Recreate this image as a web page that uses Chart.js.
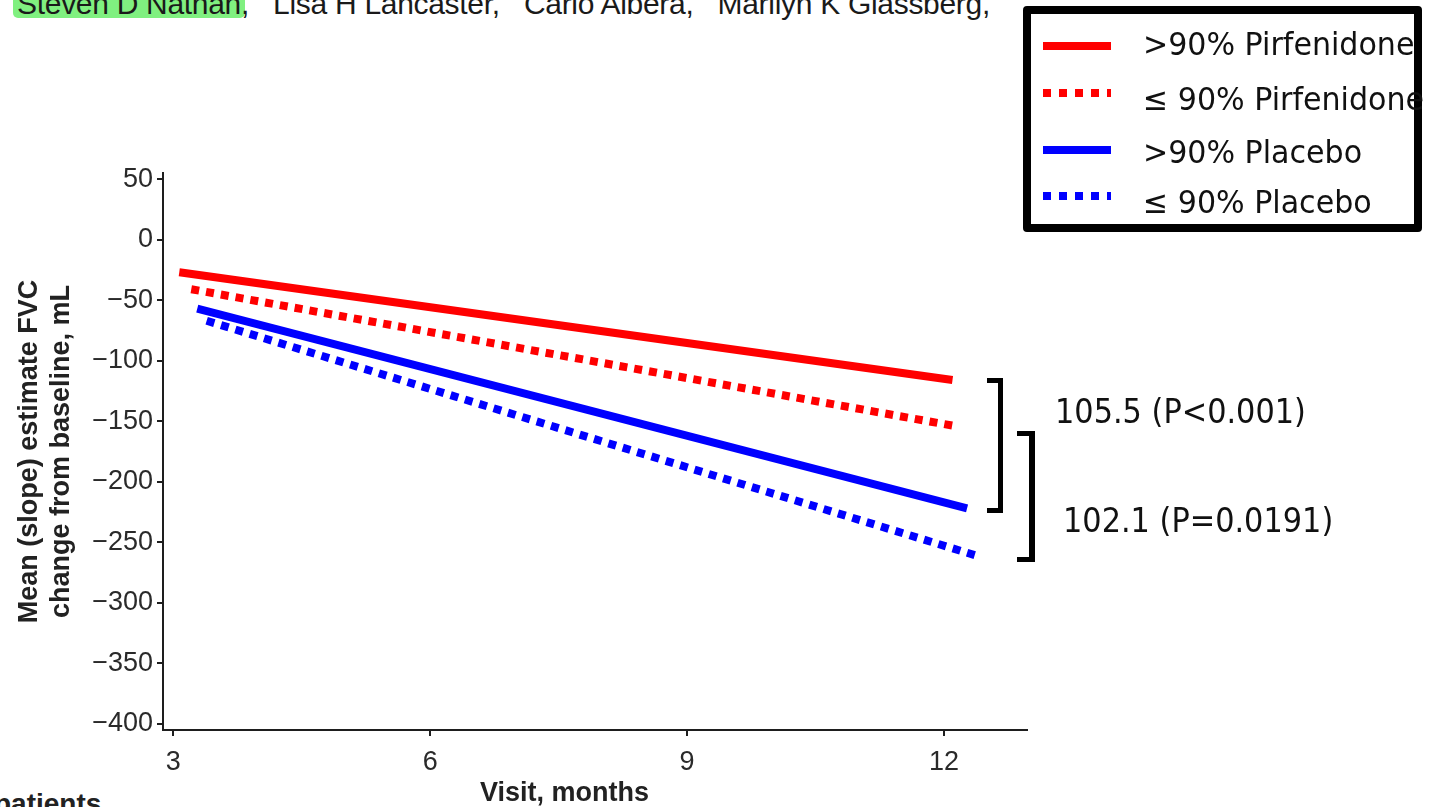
<!DOCTYPE html>
<html>
<head>
<meta charset="utf-8">
<script src="https://cdn.jsdelivr.net/npm/chart.js@4.4.1/dist/chart.umd.min.js"></script>
<style>
  html, body { margin: 0; padding: 0; background: #fff; overflow: hidden; }
  #wrap { position: relative; width: 1437px; height: 807px; overflow: hidden; }
  #chart { position: absolute; left: 0; top: 0; }
  .txt { position: absolute; white-space: pre; line-height: 1; color: #111; }
  .sans { font-family: "Liberation Sans", Arial, sans-serif; }
  .tah { font-family: "DejaVu Sans", Verdana, sans-serif; transform-origin: left top; }
  #hilite { position: absolute; left: 13px; top: -6px; width: 232px; height: 24px; background: #80f080; border-radius: 5px; }
  #legend { position: absolute; left: 1023px; top: 6px; width: 399px; height: 226px; box-sizing: border-box; border: 8px solid #000; border-radius: 4px; }
  .sample { position: absolute; left: 1043px; width: 68px; height: 8px; }
  .bracket { position: absolute; box-sizing: border-box; border: 5px solid #000; border-left: none; }
</style>
</head>
<body>
<div id="wrap">
  <div id="hilite"></div>
  <div class="txt sans" style="left:17px; top:-11px; font-size:30px; letter-spacing:-0.3px; color:#1a1a1a;">Steven D Nathan,   Lisa H Lancaster,   Carlo Albera,   Marilyn K Glassberg,</div>
  <div class="txt sans" style="left:-6px; top:790px; font-size:28px; font-weight:bold; color:#222;">patients</div>

  <canvas id="chart" width="1437" height="807"></canvas>

  <div class="txt sans" style="left:480px; top:779px; font-size:27px; font-weight:bold; color:#222;">Visit, months</div>

  <div id="legend"></div>
  <div id="legendItems"></div>

  <div class="bracket" style="left:987px; top:378px; width:16px; height:135px;"></div>
  <div class="bracket" style="left:1017px; top:431px; width:18px; height:131px; border-width:5px 6px 5px 0;"></div>
  <div class="txt tah" style="left:1055px; top:395px; font-size:33px; transform:scaleX(0.92);">105.5 (P&lt;0.001)</div>
  <div class="txt tah" style="left:1063px; top:504px; font-size:33px; transform:scaleX(0.92);">102.1 (P=0.0191)</div>
</div>

<script>
// series labels and colours
const seriesNames = [">90% Pirfenidone", "\u2264 90% Pirfenidone", ">90% Placebo", "\u2264 90% Placebo"];
const seriesColors = ["#ff0000", "#ff0000", "#0000ff", "#0000ff"];
const seriesDotted = [false, true, false, true];

// axis ticks
const xTicks = [3, 6, 9, 12];
const yTicks = [50, 0, -50, -100, -150, -200, -250, -300, -350, -400];

// slope lines, start and end (visit month, mL)
const pirfHighX = [3.07, 12.1];
const pirfHighY = [-27, -116];
const pirfLowX = [3.21, 12.13];
const pirfLowY = [-41, -154];
const placHighX = [3.28, 12.27];
const placHighY = [-57, -222];
const placLowX = [3.39, 12.38];
const placLowY = [-67, -261];

const seriesX = [pirfHighX, pirfLowX, placHighX, placLowX];
const seriesY = [pirfHighY, pirfLowY, placHighY, placLowY];

Chart.defaults.font.family = "'Liberation Sans', Arial, sans-serif";
Chart.defaults.color = "#2a2a2a";

const datasets = seriesNames.map(function (name, i) {
  return {
    label: name,
    data: seriesX[i].map(function (x, j) { return { x: x, y: seriesY[i][j] }; }),
    borderColor: seriesColors[i],
    backgroundColor: seriesColors[i],
    borderWidth: 8,
    borderDash: seriesDotted[i] ? [8, 7] : [],
    borderCapStyle: "butt",
    pointRadius: 0,
    tension: 0,
    fill: false,
  };
});

const axisColor = "#1e1e1e";

new Chart(document.getElementById("chart").getContext("2d"), {
  type: "line",
  data: { datasets: datasets },
  options: {
    responsive: false,
    animation: false,
    layout: { padding: { top: 173, right: 410, bottom: 0, left: 0 } },
    plugins: { legend: { display: false }, tooltip: { enabled: false } },
    scales: {
      x: {
        type: "linear",
        min: 2.88,
        max: 12.97,
        afterBuildTicks: function (scale) {
          scale.ticks = xTicks.map(function (v) { return { value: v }; });
        },
        afterFit: function (scale) { scale.height = 77; },
        grid: { drawOnChartArea: false, drawTicks: true, tickLength: 6, color: axisColor, lineWidth: 2 },
        border: { display: true, color: axisColor, width: 2 },
        ticks: { font: { size: 27 }, padding: 10, color: "#2a2a2a", maxRotation: 0 },
      },
      y: {
        type: "linear",
        min: -405,
        max: 55,
        afterBuildTicks: function (scale) {
          scale.ticks = yTicks.map(function (v) { return { value: v }; });
        },
        afterFit: function (scale) { scale.width = 163; },
        grid: { drawOnChartArea: false, drawTicks: true, tickLength: 6, color: axisColor, lineWidth: 2 },
        border: { display: true, color: axisColor, width: 2 },
        ticks: {
          font: { size: 27 },
          padding: 4,
          color: "#2a2a2a",
          callback: function (v) { return String(v).replace("-", "\u2212"); },
        },
        title: {
          display: true,
          text: ["Mean (slope) estimate FVC", "change from baseline, mL"],
          font: { size: 27, weight: "bold", lineHeight: 1.2 },
          color: "#222",
          padding: { top: 13, bottom: 0 },
        },
      },
    },
  },
});

// legend rows (drawn as html next to the chart)
const legendTops = [28, 83, 136, 186];
const sampleCenters = [46, 93, 150, 196];
const legendBox = document.getElementById("legendItems");
seriesNames.forEach(function (name, i) {
  const s = document.createElement("div");
  s.className = "sample";
  s.style.top = (sampleCenters[i] - 4) + "px";
  s.style.background = seriesDotted[i]
    ? "repeating-linear-gradient(90deg, " + seriesColors[i] + " 0 8.5px, transparent 8.5px 16px)"
    : seriesColors[i];
  legendBox.appendChild(s);
  const t = document.createElement("div");
  t.className = "txt tah";
  t.style.left = "1143px";
  t.style.top = legendTops[i] + "px";
  t.style.fontSize = "32px";
  t.style.transform = "scaleX(0.94)";
  t.textContent = name;
  legendBox.appendChild(t);
});
</script>
</body>
</html>
